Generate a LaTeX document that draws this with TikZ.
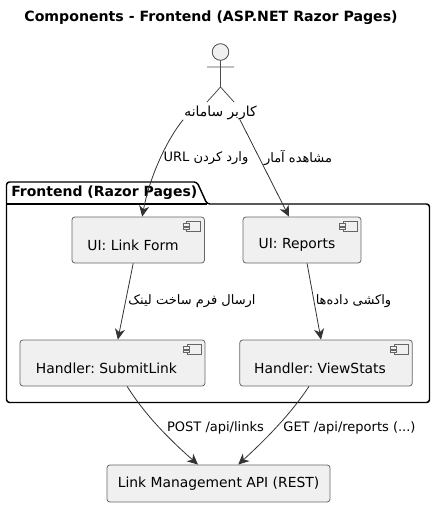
\documentclass[tikz,border=0pt]{standalone}
\usepackage{fontspec}
\setmainfont{DejaVu Sans}
\newfontfamily\arabicfont[Script=Arabic]{DejaVu Sans}
\TeXXeTstate=1
\usetikzlibrary{arrows.meta}
\tikzset{
  boxstyle/.style={draw=black!60,fill=black!6,rounded corners=2.2pt,line width=0.6pt,inner sep=0pt},
  textstyle/.style={inner sep=0pt,font=\frenchspacing\fontsize{10.4}{12}\selectfont},
  edgetext/.style={inner sep=0pt,font=\frenchspacing\fontsize{9.75}{12}\selectfont},
  link/.style={draw=black!80,line width=0.6pt,-{Stealth[inset=2.4pt,length=8pt,width=7.5pt]}},
  iconstyle/.style={draw=black!60,fill=black!6,line width=0.5pt},
}
\begin{document}
\begin{tikzpicture}[x=0.75pt,y=0.75pt,yscale=-1,xscale=1]
\useasboundingbox (0,0) rectangle (435,506);
% Title
\node [inner sep=0pt,font=\bfseries\frenchspacing\fontsize{10.6}{12}\selectfont] (title) at (211,18) {Components - Frontend (ASP.NET Razor Pages)};
% Package
\draw [line width=1.1pt,line join=round,rounded corners=2.2pt] (6.5,204) -- (6.5,182) -- (197,182) -- (207,204) -- (429.5,204) -- (429.5,402.5) -- (6.5,402.5) -- cycle;
\draw [line width=1.1pt] (6.5,204) -- (207,204);
\node [anchor=west,inner sep=0pt,font=\bfseries\frenchspacing\fontsize{10.5}{12}\selectfont] (frontend) at (11,192.5) {Frontend (Razor Pages)};
% Actor
\draw [draw=black!70,fill=black!6,line width=0.6pt] (220.5,52) circle (8.3);
\draw [draw=black!70,line width=0.6pt] (220.5,60.3) -- (220.5,87) (207,67) -- (234,67) (207,102) -- (220.5,87) -- (234,102);
\node [textstyle] (user) at (220.5,112.5) {\arabicfont\beginR کاربر سامانه\endR};
% Boxes
\node [boxstyle,minimum width=99.4pt,minimum height=34.5pt] (linkform) at (138.2,240) {};
\node [boxstyle,minimum width=88.5pt,minimum height=34.5pt] (reports) at (302,240) {};
\node [boxstyle,minimum width=138.8pt,minimum height=34.5pt] (submit) at (112.5,363) {};
\node [boxstyle,minimum width=129.4pt,minimum height=34.5pt] (viewstats) at (326,363) {};
\node [boxstyle,minimum width=167.3pt,minimum height=27.8pt] (api) at (218.5,483.5) {};
\foreach \name in {linkform,reports,submit,viewstats} {
  \draw [iconstyle] ([shift={(-13.9pt,3.75pt)}]\name.north east) rectangle ([shift={(-3.4pt,11.25pt)}]\name.north east);
  \draw [iconstyle] ([shift={(-16.5pt,5.2pt)}]\name.north east) rectangle ([shift={(-12pt,7pt)}]\name.north east);
  \draw [iconstyle] ([shift={(-16.5pt,8pt)}]\name.north east) rectangle ([shift={(-12pt,9.8pt)}]\name.north east);
}
\node [textstyle] (linkformtext) at (133,245) {UI: Link Form};
\node [textstyle] (reportstext) at (297,245) {UI: Reports};
\node [textstyle] (submittext) at (106.5,368) {Handler: SubmitLink};
\node [textstyle] (viewstatstext) at (320,368) {Handler: ViewStats};
\node [textstyle] (apitext) at (218.5,484) {Link Management API (REST)};
% Edges
\draw [link] ([shift={(-28pt,0pt)}]user.south) .. controls (168,138) and (150,175) .. ([xshift=3pt]linkform.north);
\draw [link] ([shift={(14.6pt,0pt)}]user.south) -- ([xshift=-9.75pt]reports.north);
\draw [link] ([xshift=-3.75pt]linkform.south) -- ([xshift=4pt]submit.north);
\draw [link] ([xshift=3.8pt]reports.south) -- ([xshift=-3.75pt]viewstats.north);
\draw [link] ([xshift=11pt]submit.south) .. controls (145,415) and (170,440) .. ([xshift=-15.4pt]api.north);
\draw [link] ([xshift=-12.75pt]viewstats.south) .. controls (290,415) and (265,440) .. ([xshift=14.8pt]api.north);
% Edge labels
\node [edgetext] (urllabel) at (206,158) {\arabicfont\beginR وارد کردن \beginL URL\endL\endR};
\node [edgetext] (statslabel) at (298,158) {\arabicfont\beginR مشاهده آمار\endR};
\node [edgetext] (formlabel) at (192,301) {\arabicfont\beginR ارسال فرم ساخت لینک\endR};
\node [edgetext] (fetchlabel) at (353.5,301) {\arabicfont\beginR واکشی داده‌ها\endR};
\node [edgetext] (postlabel) at (215.5,428) {POST /api/links};
\node [edgetext] (getlabel) at (349.5,428) {GET /api/reports (...)};
\end{tikzpicture}
\end{document}
